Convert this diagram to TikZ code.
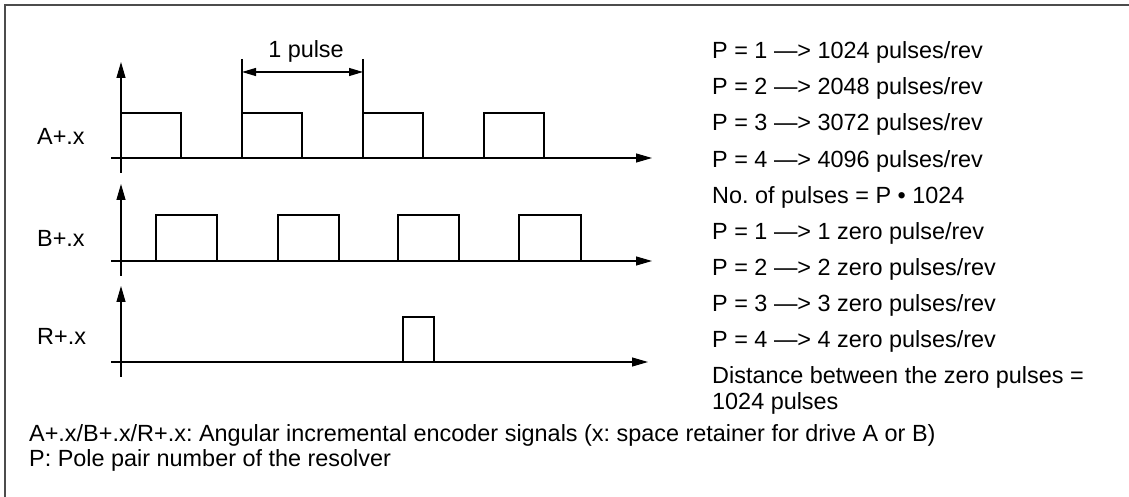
\documentclass[tikz,border=0pt]{standalone}
\usepackage{fontspec}
\setmainfont{Liberation Sans}
\usetikzlibrary{arrows.meta}
\frenchspacing
\begin{document}
\begin{tikzpicture}[x=1bp,y=-1bp,
  txt/.style={inner sep=0pt,anchor=west,font=\fontsize{23.5}{26}\selectfont},
  axis/.style={line width=1.1bp,-{Triangle[length=16bp,width=9bp]}},
  tick/.style={line width=1.1bp},
  wave/.style={line width=2.6bp,line join=miter,line cap=butt},
  frame/.style={line width=2bp,draw=black!70},
  dim/.style={line width=1.1bp,{Triangle[length=14bp,width=8bp]}-{Triangle[length=14bp,width=8bp]}}]
\useasboundingbox (0,0) rectangle (1129,497);
\fill[white] (0,0) rectangle (1129,497);
% frame (top and left only)
\draw[frame] (5,497) -- (5,5) -- (1129,5);

% ---------- A ----------
\coordinate (Ay0) at (121,173); \coordinate (Ay1) at (121,62);
\coordinate (Ax0) at (111,158); \coordinate (Ax1) at (652,158);
\draw[axis] (Ay0) -- (Ay1);
\draw[axis] (Ax0) -- (Ax1);
\draw[wave] (121,158) -- (121,113) -- (181,113) -- (181,158) -- (242,158) -- (242,113)
  -- (302,113) -- (302,158) -- (363,158) -- (363,113) -- (423,113) -- (423,158)
  -- (484,158) -- (484,113) -- (544,113) -- (544,158) -- (606,158);
\node[txt] (LA) at (37,136) {A+.x};
% dimension
\coordinate (D1t) at (242,59); \coordinate (D1b) at (242,113);
\coordinate (D2t) at (363,59); \coordinate (D2b) at (363,113);
\draw[tick] (D1t) -- (D1b);
\draw[tick] (D2t) -- (D2b);
\coordinate (D1) at (242,72); \coordinate (D2) at (363,72);
\draw[dim] (D1) -- (D2);
\node[txt,anchor=center] (LP) at (306,51) {1 pulse};

% ---------- B ----------
\coordinate (By0) at (121,276); \coordinate (By1) at (121,184);
\coordinate (Bx0) at (111,261); \coordinate (Bx1) at (652,261);
\draw[axis] (By0) -- (By1);
\draw[axis] (Bx0) -- (Bx1);
\draw[wave] (125,261) -- (156,261) -- (156,215) -- (217,215) -- (217,261) -- (278,261)
  -- (278,215) -- (339,215) -- (339,261) -- (398,261) -- (398,215) -- (459,215)
  -- (459,261) -- (519,261) -- (519,215) -- (581,215) -- (581,261) -- (637,261);
\node[txt] (LB) at (37,238) {B+.x};

% ---------- R ----------
\coordinate (Ry0) at (121,377); \coordinate (Ry1) at (121,286);
\coordinate (Rx0) at (111,362); \coordinate (Rx1) at (648,362);
\draw[axis] (Ry0) -- (Ry1);
\draw[axis] (Rx0) -- (Rx1);
\draw[wave] (121,362) -- (403,362) -- (403,317) -- (434,317) -- (434,362) -- (612,362);
\node[txt] (LR) at (37,336) {R+.x};

% ---------- right column ----------
\node[txt] (t1) at (712,52) {P = 1 —> 1024 pulses/rev};
\node[txt] (t2) at (712,88) {P = 2 —> 2048 pulses/rev};
\node[txt] (t3) at (712,124) {P = 3 —> 3072 pulses/rev};
\node[txt] (t4) at (712,161) {P = 4 —> 4096 pulses/rev};
\node[txt] (t5) at (712,197) {No. of pulses = P • 1024};
\node[txt] (t6) at (712,233) {P = 1 —> 1 zero pulse/rev};
\node[txt] (t7) at (712,269) {P = 2 —> 2 zero pulses/rev};
\node[txt] (t8) at (712,305) {P = 3 —> 3 zero pulses/rev};
\node[txt] (t9) at (712,341) {P = 4 —> 4 zero pulses/rev};
\node[txt] (t10) at (712,377) {Distance between the zero pulses =};
\node[txt] (t11) at (712,403) {1024 pulses};

% ---------- bottom ----------
\node[txt] (b1) at (29,435) {A+.x/B+.x/R+.x: Angular incremental encoder signals (x: space retainer for drive A or B)};
\node[txt] (b2) at (29,460) {P: Pole pair number of the resolver};
\end{tikzpicture}
\end{document}
